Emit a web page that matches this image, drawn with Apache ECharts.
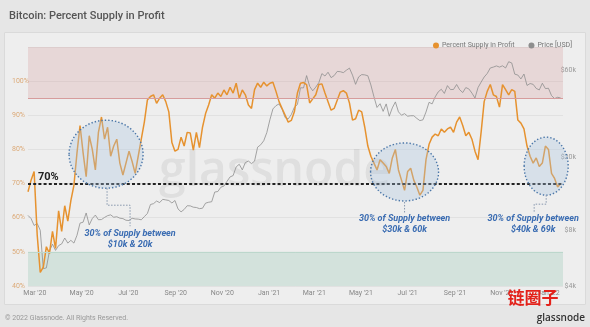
<!DOCTYPE html>
<html><head><meta charset="utf-8">
<script src="https://cdn.jsdelivr.net/npm/echarts@6/dist/echarts.min.js"></script>
<style>html,body{margin:0;padding:0;background:#e6e6e6;}#c{width:590px;height:327px;}</style>
</head><body><div id="c"></div>
<script>
// ---- data ----
const startDate = '2020-02-21';
const stepDays = 4;
const supplyInProfit = [
67.6,71,73.5,55,44,45.5,51.5,49.5,56,51,62,56,63.5,59,65,69.5,79,87,79,72,
84,80,74,85,89.5,83,86.5,78,81,83,76,72.5,76,79.5,76.5,73,78,83,88,94.5,
95.5,96,93.5,95,96,94,91,82,79.5,80,83.6,81,85,84.8,79.8,85,80.5,86.5,90.5,93,
96,95,96.5,95.5,97.4,96,98.2,96.5,99.4,95,97.4,96,93,92,97.5,99.4,98.2,99.7,98.6,99.4,
99.7,97,94,92,90,88,88.5,91,96.5,99.4,99.6,99,93.6,94.8,96,99,99.2,96.5,94,91.5,
92,94.4,96.8,97.2,96.5,93.6,88.6,89,91.5,91,86.5,81,78,76,74,77,76,75,73,77.5,
80,74,71,68,73.5,74.5,71,69,66.6,68,77,81.5,83.6,84.5,84,86,85,86,86.5,85,
88,89.5,87,84,85,83,79.5,77,85,94,97,99,96,95.5,92.4,99,97.5,96,97.5,97,
88.6,87.7,86,81,78,76,77.5,75,76,81,80,73,71.5,69,70
];
const priceUSD = [
9690,9320,8540,8760,8040,4970,5020,6190,6760,6250,6640,6780,7300,6850,7090,6850,7550,8800,8900,9990,
8600,9320,9730,9180,9200,9450,9660,9760,9470,9530,9360,9310,9120,9090,9350,9270,9250,9170,9540,9930,
11110,11230,11600,11380,11850,11770,11680,11320,11680,10510,10130,10440,10940,10920,10740,10700,10550,10600,11300,11430,
11500,12990,13070,13800,14000,14840,15700,15960,17800,18400,17150,18800,19150,18550,19140,22800,23480,24700,27360,32100,
36800,38350,39200,36600,33000,32500,34300,37600,38900,48000,47900,55900,48900,46200,48400,51200,57300,55600,58300,54500,
55900,58900,58700,58000,59800,61400,56200,50100,55000,56600,56400,55800,49700,42900,37500,39300,35700,39200,33600,37300,
40200,35500,34000,34700,33600,33800,33800,32700,31800,32100,35400,40000,39200,42800,45600,47100,44700,49300,46900,47000,
50000,46800,45200,48100,47300,44900,42200,48100,51500,54900,57400,61500,62200,63100,62200,63200,61500,66500,65500,56900,
56300,53600,57000,49400,50600,50100,47600,46700,50800,47500,47700,43500,41900,42600,42200
];
const xMin = '2020-02-21';
const xMax = '2022-01-20';
const xTickDates = ['2020-03-01','2020-05-01','2020-07-01','2020-09-01','2020-11-01','2021-01-01','2021-03-01','2021-05-01','2021-07-01','2021-09-01','2021-11-01','2022-01-01'];
const xTickLabels = ["Mar '20","May '20","Jul '20","Sep '20","Nov '20","Jan '21","Mar '21","May '21","Jul '21","Sep '21","Nov '21","Jan '22"];
const priceTicks = [4000,8000,20000,60000];
const priceTickLabels = ['$4k','$8k','$20k','$60k'];
const priceAxisMax = 80000;
const upperBand = [95,110];
const lowerBand = [40,50];
const refLevel = 70;
const annotations = [
  {date:'2020-06-02', value:78.6, rx:37, ry:34, path:[[1,34],[1,51],[24,51],[24,72]], tx:24, ty:74, lines:['30% of Supply between','$10k & 20k']},
  {date:'2021-06-27', value:73.4, rx:34, ry:29, path:[[0,30],[0,41]], tx:0, ty:41, lines:['30% of Supply between','$30k & 60k']},
  {date:'2021-12-29', value:75.1, rx:22, ry:29, path:[[0,29],[0,38],[-12,38],[-12,47]], tx:-13, ty:47, lines:['30% of Supply between','$40k & 69k']}
];

// ---- build ----
const DAY = 86400000;
const t0 = Date.parse(startDate);
const profitData = supplyInProfit.map((v,i)=>[t0 + i*stepDays*DAY, v]);
const priceData = priceUSD.map((v,i)=>[t0 + i*stepDays*DAY, Math.log10(v)]);
const xTickTs = xTickDates.map(d=>Date.parse(d));
const priceTickLog = priceTicks.map(v=>Math.log10(v));

const chart = echarts.init(document.getElementById('c'), null, {renderer:'canvas'});
const FONT = 'Roboto';
const option = {
  animation:false,
  textStyle:{fontFamily:FONT},
  title:{text:'Bitcoin: Percent Supply in Profit', left:4, top:6, textStyle:{fontSize:11, fontWeight:500, color:'#555', fontFamily:FONT}},
  legend:{right:13, top:37, itemWidth:6, itemHeight:6, itemGap:14, icon:'circle',
    textStyle:{fontSize:7, color:'#777', padding:[0,0,0,-2]},
    data:['Percent Supply in Profit','Price [USD]']},
  grid:{left:28, right:27, top:47, bottom:41},
  xAxis:{type:'value', min:Date.parse(xMin), max:Date.parse(xMax),
    axisLine:{show:false}, axisTick:{show:false}, splitLine:{show:false},
    axisLabel:{customValues:xTickTs, fontSize:7, color:'#888', margin:4,
      formatter:(v)=>{const k=xTickTs.findIndex(t=>Math.abs(t-v)<DAY); return k>=0?xTickLabels[k]:'';}}},
  yAxis:[
    {type:'value', min:40, max:110, interval:10, position:'left',
      axisLine:{show:false}, axisTick:{show:false},
      splitLine:{show:true, lineStyle:{color:'rgba(0,0,0,0.05)', width:1}},
      axisLabel:{fontSize:7, color:'#dcaa78', align:'left', margin:16, padding:[0,0,6,0],
        formatter:(v)=> v>100 ? '' : v+'%'}},
    {type:'value', min:Math.log10(priceTicks[0]), max:Math.log10(priceAxisMax), position:'right',
      axisLine:{show:false}, axisTick:{show:false}, splitLine:{show:false},
      axisLabel:{customValues:priceTickLog, fontSize:7, color:'#999', align:'right', margin:13, padding:[0,0,6,0],
        formatter:(v)=>{const k=priceTickLog.findIndex(t=>Math.abs(t-v)<1e-3); return k>=0?priceTickLabels[k]:'';}}}
  ],
  series:[
    {name:'Price [USD]', type:'line', yAxisIndex:1, data:priceData, showSymbol:false, symbol:'none',
      lineStyle:{color:'#8e8e8e', width:0.8}, itemStyle:{color:'#8e8e8e'}, z:3},
    {name:'Percent Supply in Profit', type:'line', yAxisIndex:0, data:profitData, showSymbol:false, symbol:'none',
      lineStyle:{color:'#e6922f', width:1.5}, itemStyle:{color:'#e6922f'}, z:4,
      markArea:{silent:true, data:[
        [{yAxis:upperBand[0], itemStyle:{color:'rgba(214,150,150,0.26)'}},{yAxis:upperBand[1]}],
        [{yAxis:lowerBand[0], itemStyle:{color:'rgba(150,200,180,0.30)'}},{yAxis:lowerBand[1]}]
      ]},
      markLine:{silent:true, symbol:'none', data:[
        {yAxis:upperBand[0], lineStyle:{color:'#d69c9c', width:1, type:'solid'}, label:{show:false}},
        {yAxis:lowerBand[1], lineStyle:{color:'#bcd7cc', width:1, type:'solid'}, label:{show:false}},
        {yAxis:refLevel, lineStyle:{color:'#222', width:2.2, type:[3,2.2]},
          label:{show:true, position:'insideStartTop', formatter:'70%', fontSize:11, fontWeight:'bold', color:'#222', distance:[10,1]}}
      ]}}
  ]
};
chart.setOption(option);

const g = [
  {type:'rect', shape:{x:4.5,y:32.5,width:581,height:272}, style:{fill:'#eeeeee', stroke:'#dadada', lineWidth:1}, z:-10, silent:true},
  {type:'text', x:275, y:172, style:{text:'glassnode', fill:'rgba(150,150,150,0.17)', fontSize:48, fontWeight:600, fontFamily:'Open Sans', align:'center', verticalAlign:'middle'}, z:-9, silent:true},
  {type:'text', x:5, y:318, style:{text:'© 2022 Glassnode. All Rights Reserved.', fill:'#999', fontSize:7, fontFamily:FONT, verticalAlign:'middle'}, silent:true},
  {type:'text', x:585, y:318, style:{text:'glassnode', fill:'#333', fontSize:10, fontWeight:600, fontFamily:'Open Sans', align:'right', verticalAlign:'middle'}, silent:true},
  {type:'text', x:533, y:298, style:{text:'链圈子', fill:'#e3221b', fontSize:17, fontWeight:'bold', fontFamily:'Noto Sans CJK SC', align:'center', verticalAlign:'middle'}, z:60, silent:true}
];
annotations.forEach(a=>{
  const p = chart.convertToPixel({xAxisIndex:0, yAxisIndex:0}, [Date.parse(a.date), a.value]);
  const cx = p[0], cy = p[1];
  g.push({type:'ellipse', shape:{cx:cx, cy:cy, rx:a.rx, ry:a.ry}, style:{fill:'rgba(170,198,226,0.33)', stroke:'#4a76a8', lineWidth:1.4, lineDash:[1.4,2]}, z:50, silent:true});
  g.push({type:'polyline', shape:{points:a.path.map(q=>[cx+q[0], cy+q[1]])}, style:{stroke:'#8797ad', lineWidth:1, lineDash:[1.5,1.5], fill:null}, z:50, silent:true});
  g.push({type:'text', x:cx+a.tx, y:cy+a.ty, style:{text:a.lines.join('\n'), fill:'#3a6cb2', fontSize:9, fontStyle:'italic', fontWeight:'bold', fontFamily:FONT, align:'center', verticalAlign:'top', lineHeight:11}, z:51, silent:true});
});
chart.setOption({graphic:{elements:g}});
</script></body></html>
